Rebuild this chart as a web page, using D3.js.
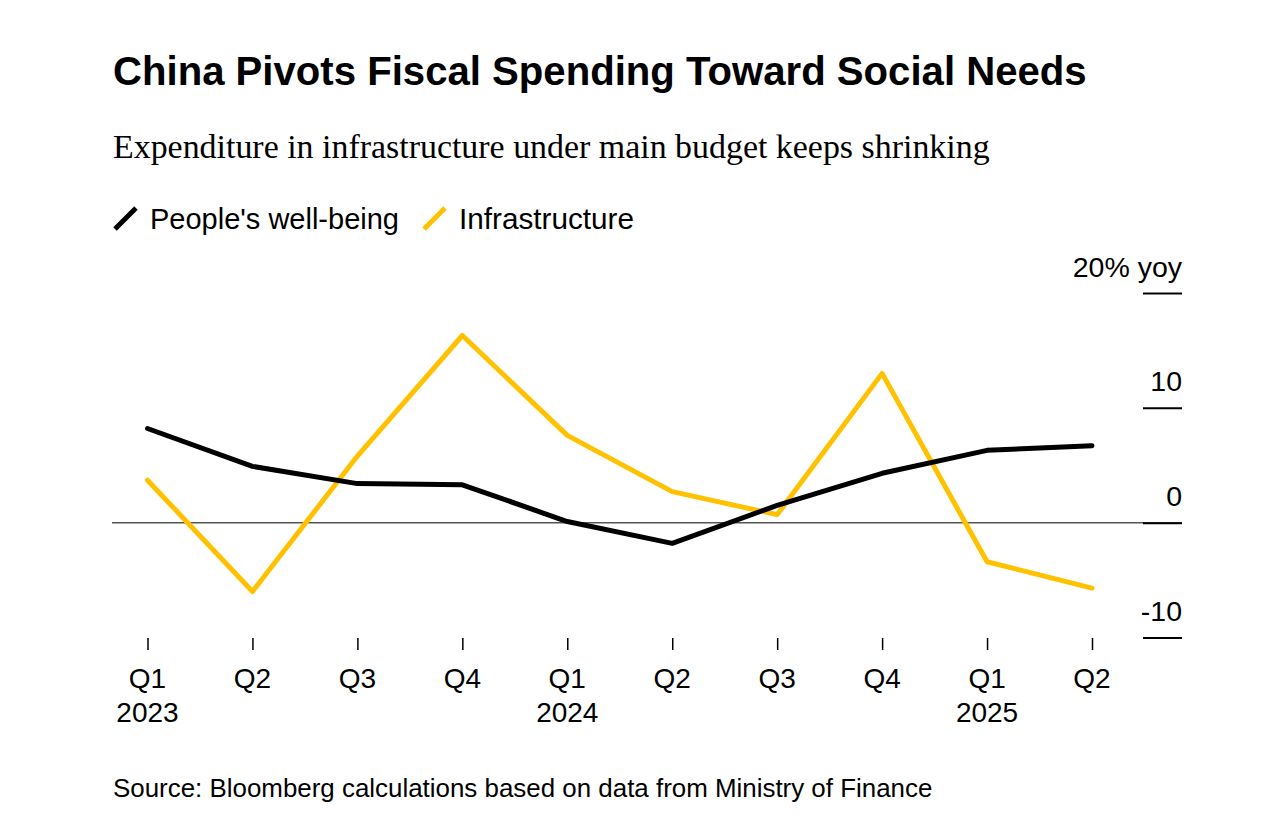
<!DOCTYPE html>
<html>
<head>
<meta charset="utf-8">
<script src="https://cdn.jsdelivr.net/npm/d3@7"></script>
<style>
  body { margin: 0; background: #fff; }
  svg { display: block; font-family: "Liberation Sans", Arial, Helvetica, sans-serif; }
</style>
</head>
<body>
<div id="chart"></div>
<script>
// Data (% yoy)
const quarters = ['Q1', 'Q2', 'Q3', 'Q4', 'Q1', 'Q2', 'Q3', 'Q4', 'Q1', 'Q2'];
const years = ['2023', '', '', '', '2024', '', '', '', '2025', ''];
const wellBeing = [8.2, 4.9, 3.4, 3.3, 0.1, -1.8, 1.5, 4.3, 6.3, 6.7];
const infrastructure = [3.7, -6.0, 5.8, 16.3, 7.6, 2.7, 0.7, 13.0, -3.4, -5.7];
const yTicks = [-10, 0, 10, 20];

const config = {
  width: 1278,
  height: 830,
  left: 113,
  plotLeft: 147.5,
  plotRight: 1092,
  axisRight: 1182,
  yTop: 293,
  yBottom: 637.5,
  black: '#000000',
  yellow: '#ffc100'
};

const svg = d3.select('#chart').append('svg')
    .attr('width', config.width)
    .attr('height', config.height);

// Shrink or grow a text element so its width matches the reference
function fitText(sel, target) {
  const size = parseFloat(sel.attr('font-size'));
  const w = sel.node().getComputedTextLength();
  sel.attr('font-size', size * target / w);
}

// Title, subtitle
svg.append('text')
    .attr('x', config.left).attr('y', 85)
    .attr('font-size', 38).attr('font-weight', 'bold')
    .text('China Pivots Fiscal Spending Toward Social Needs')
    .call(fitText, 974);

svg.append('text')
    .attr('x', config.left).attr('y', 158)
    .attr('font-family', '"Liberation Serif", "Times New Roman", serif')
    .attr('font-size', 31)
    .text('Expenditure in infrastructure under main budget keeps shrinking')
    .call(fitText, 877);

// Legend
const legend = [
  {label: "People's well-being", color: config.black, x: 115, w: 249},
  {label: 'Infrastructure', color: config.yellow, x: 424, w: 175}
];
const lg = svg.append('g');
legend.forEach(d => {
  lg.append('line')
      .attr('x1', d.x).attr('y1', 229)
      .attr('x2', d.x + 21).attr('y2', 208)
      .attr('stroke', d.color).attr('stroke-width', 5);
  lg.append('text')
      .attr('x', d.x + 35).attr('y', 229)
      .attr('font-size', 28)
      .text(d.label)
      .call(fitText, d.w);
});

// Scales
const x = d3.scalePoint()
    .domain(d3.range(quarters.length))
    .range([config.plotLeft, config.plotRight]);

const y = d3.scaleLinear()
    .domain([-10, 20])
    .range([config.yBottom, config.yTop]);

// Zero line
svg.append('line')
    .attr('x1', 112).attr('x2', config.axisRight)
    .attr('y1', y(0)).attr('y2', y(0))
    .attr('stroke', '#555').attr('stroke-width', 1.5);

// Y axis on the right: short tick lines with labels above them
const yAxis = svg.append('g')
    .attr('transform', `translate(${config.axisRight},0)`)
    .call(d3.axisLeft(y).tickValues(yTicks).tickSize(39)
      .tickFormat(d => d === 20 ? '20% yoy' : d));
yAxis.select('.domain').remove();
yAxis.selectAll('.tick line').attr('stroke', '#000').attr('stroke-width', 2);
yAxis.selectAll('.tick text')
    .attr('x', 0).attr('dy', -17)
    .attr('text-anchor', 'end')
    .attr('font-size', 28.5)
    .attr('font-family', '"Liberation Sans", Arial, sans-serif')
    .attr('fill', '#000');

// X axis
const xAxis = svg.append('g')
    .attr('transform', `translate(0,638)`)
    .call(d3.axisBottom(x).tickSize(12).tickFormat(''));
xAxis.select('.domain').remove();
xAxis.selectAll('.tick line').attr('stroke', '#000').attr('stroke-width', 1.5);

const xLabels = svg.append('g')
    .attr('font-size', 28)
    .attr('text-anchor', 'middle');
xLabels.selectAll('.q')
  .data(quarters)
  .join('text')
    .attr('class', 'q')
    .attr('x', (d, i) => x(i))
    .attr('y', 688)
    .text(d => d);
xLabels.selectAll('.yr')
  .data(years)
  .join('text')
    .attr('class', 'yr')
    .attr('x', (d, i) => x(i))
    .attr('y', 722)
    .text(d => d);

// Lines
const line = d3.line()
    .x((d, i) => x(i))
    .y(d => y(d));

svg.append('path')
    .datum(infrastructure)
    .attr('d', line)
    .attr('fill', 'none')
    .attr('stroke', config.yellow)
    .attr('stroke-width', 5)
    .attr('stroke-linejoin', 'round')
    .attr('stroke-linecap', 'round');

svg.append('path')
    .datum(wellBeing)
    .attr('d', line)
    .attr('fill', 'none')
    .attr('stroke', config.black)
    .attr('stroke-width', 5)
    .attr('stroke-linejoin', 'round')
    .attr('stroke-linecap', 'round');

// Source
svg.append('text')
    .attr('x', config.left).attr('y', 797)
    .attr('font-size', 24)
    .text('Source: Bloomberg calculations based on data from Ministry of Finance')
    .call(fitText, 820);
</script>
</body>
</html>
